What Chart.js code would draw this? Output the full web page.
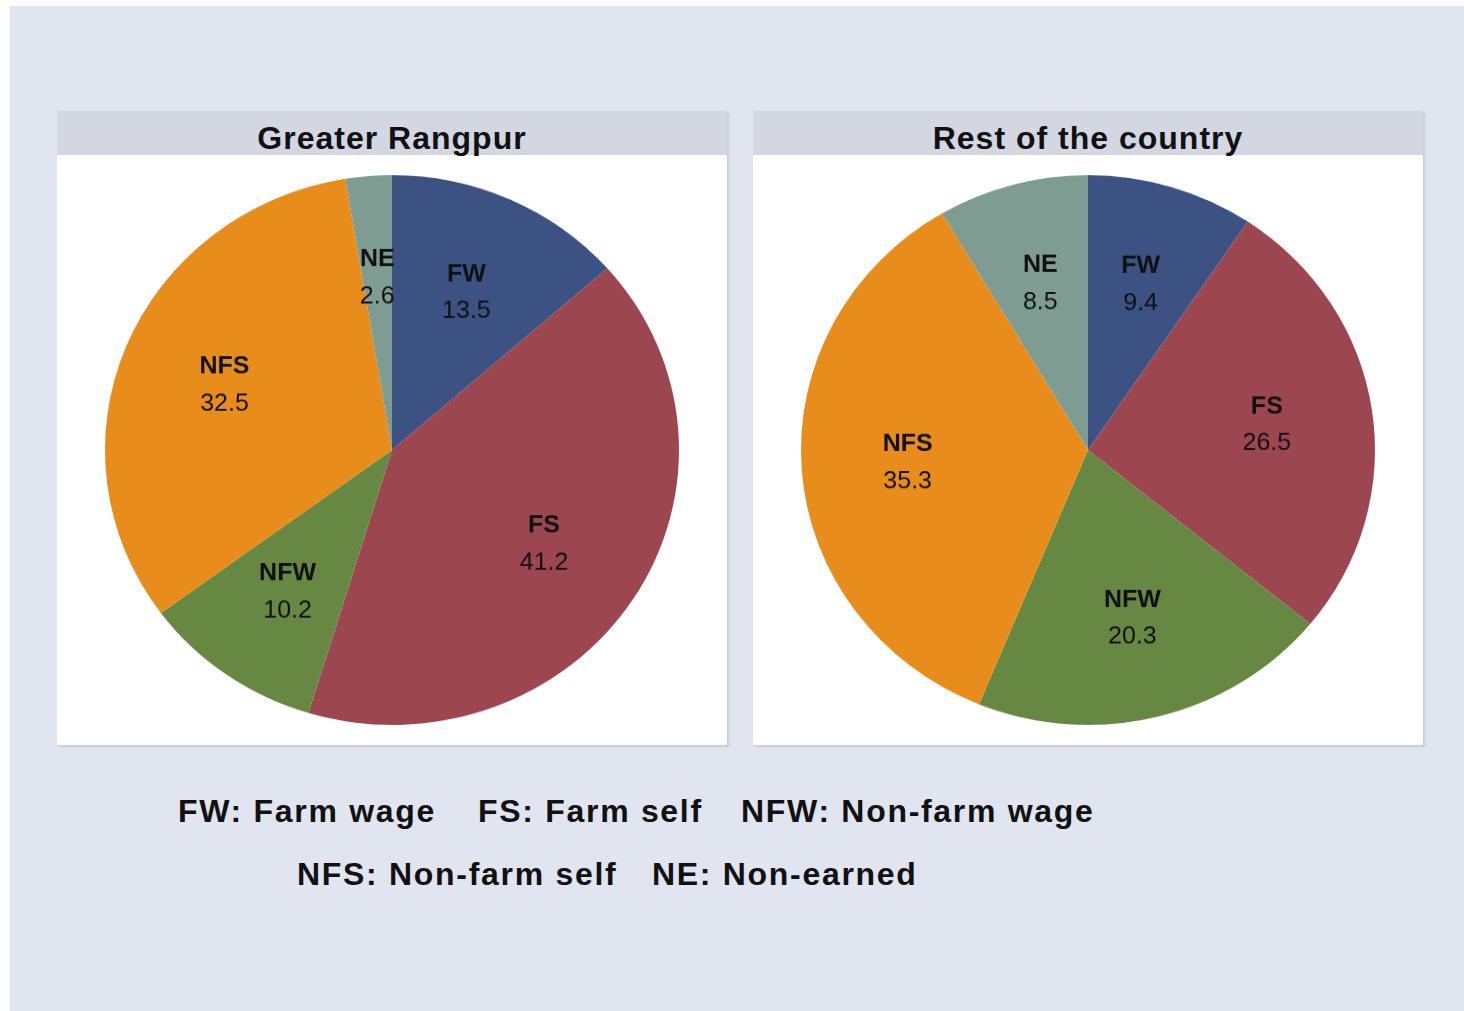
<!DOCTYPE html>
<html>
<head>
<meta charset="utf-8">
<script src="https://cdn.jsdelivr.net/npm/chart.js@4.4.1/dist/chart.umd.min.js"></script>
<style>
  html, body { margin: 0; padding: 0; background: #ffffff; }
  body { width: 1464px; height: 1011px; position: relative; overflow: hidden; }
  #bg { position: absolute; left: 10px; top: 6px; width: 1454px; height: 1005px; background: #e0e5f0; }
  .panel { position: absolute; top: 111px; width: 670px; height: 634px; background: #ffffff;
           box-shadow: 2px 2px 2px rgba(180, 186, 200, 0.6); overflow: hidden; }
  .head { height: 44px; background: #d3d7e1; text-align: center;
          font: bold 32px "Liberation Sans", Arial, sans-serif;
          line-height: 55px; color: #111; letter-spacing: 1px; }
  .panel canvas { display: block; }
  .key { position: absolute; font: bold 32px "Liberation Sans", Arial, sans-serif;
         color: #111; white-space: nowrap; letter-spacing: 1.7px; }
</style>
</head>
<body>
<div id="bg"></div>
<div class="panel" style="left:57px"><div class="head">Greater Rangpur</div><canvas id="pieLeft" width="670" height="616" style="width:670px;height:590px"></canvas></div>
<div class="panel" style="left:753px"><div class="head">Rest of the country</div><canvas id="pieRight" width="670" height="616" style="width:670px;height:590px"></canvas></div>

<div class="key" style="left:178px; top:793px">FW: Farm wage</div>
<div class="key" style="left:478px; top:793px">FS: Farm self</div>
<div class="key" style="left:741px; top:793px">NFW: Non-farm wage</div>
<div class="key" style="left:297px; top:856px">NFS: Non-farm self</div>
<div class="key" style="left:652px; top:856px">NE: Non-earned</div>

<script>
// income source shares (%), clockwise from 12 o'clock
const categories = ['FW', 'FS', 'NFW', 'NFS', 'NE'];
const rangpurShares = [13.5, 41.2, 10.2, 32.5, 2.6];
const restShares = [9.4, 26.5, 20.3, 35.3, 8.5];
const sliceColors = ['#3b5283', '#9c4650', '#678843', '#e88d1c', '#7e9c91'];

// the original pies are a bit flattened: canvas is drawn taller and squeezed by css
const squeeze = 590 / 616;

// write "FW / 13.5" inside each slice
const sliceLabels = {
  id: 'sliceLabels',
  afterDatasetsDraw(chart) {
    const ctx = chart.ctx;
    const meta = chart.getDatasetMeta(0);
    const values = chart.data.datasets[0].data;
    meta.data.forEach((arc, i) => {
      const mid = (arc.startAngle + arc.endAngle) / 2;
      const r = arc.outerRadius * 0.63;
      const x = arc.x + Math.cos(mid) * r;
      const y = arc.y + Math.sin(mid) * r;
      ctx.save();
      ctx.translate(x, y);
      ctx.scale(1, 1 / squeeze);
      ctx.textAlign = 'center';
      ctx.textBaseline = 'middle';
      ctx.fillStyle = '#111111';
      ctx.font = 'bold 25px "Liberation Sans", Arial, sans-serif';
      ctx.fillText(chart.data.labels[i], 0, -18);
      ctx.font = '25px "Liberation Sans", Arial, sans-serif';
      ctx.fillText(values[i].toFixed(1), 0, 19);
      ctx.restore();
    });
  }
};

function drawPie(id, values) {
  const ctx = document.getElementById(id).getContext('2d');
  new Chart(ctx, {
    type: 'pie',
    data: {
      labels: categories,
      datasets: [{
        data: values,
        backgroundColor: sliceColors,
        borderWidth: 0
      }]
    },
    options: {
      responsive: false,
      animation: false,
      layout: { padding: { left: 48, right: 48, top: 21, bottom: 21 } },
      plugins: {
        legend: { display: false },
        tooltip: { enabled: false }
      }
    },
    plugins: [sliceLabels]
  });
}

drawPie('pieLeft', rangpurShares);
drawPie('pieRight', restShares);
</script>
</body>
</html>
